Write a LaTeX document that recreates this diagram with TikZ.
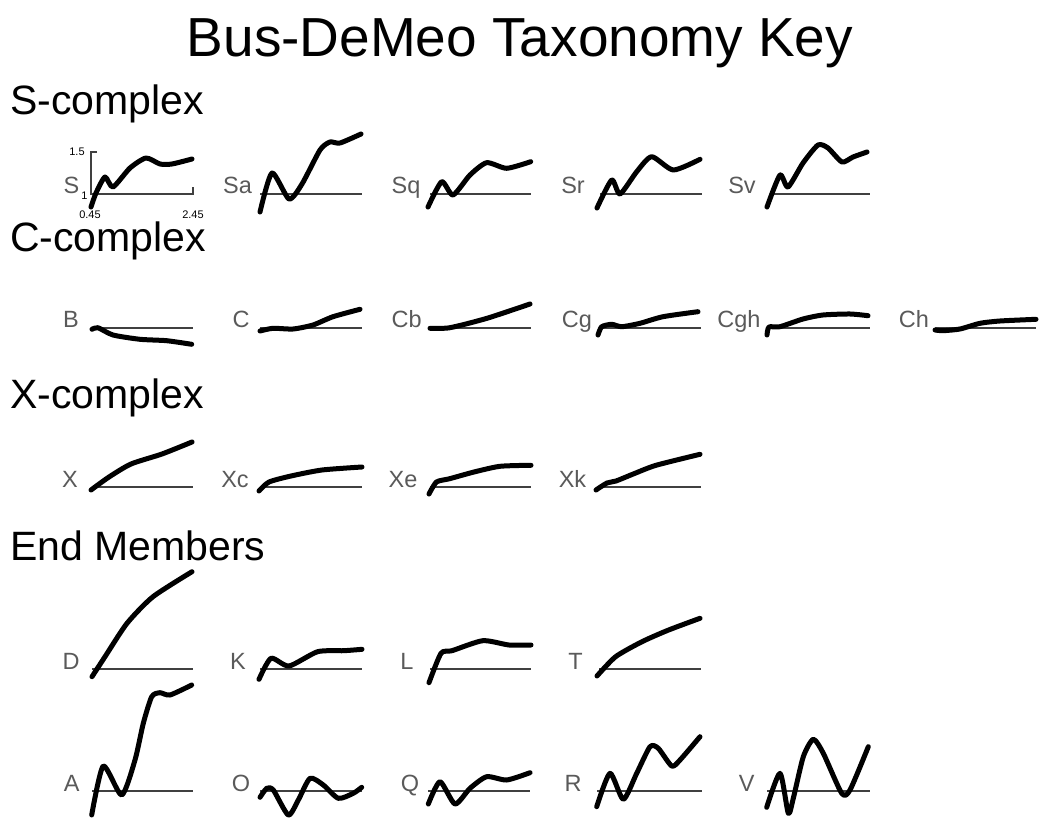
\documentclass[tikz,border=0pt]{standalone}
\usepackage{fontspec}
\setmainfont{Liberation Sans}
\definecolor{labelgray}{HTML}{5A5A5A}
\definecolor{basegray}{HTML}{404040}
\begin{document}
\begin{tikzpicture}[x=1pt,y=-1pt,
  lbl/.style={font=\fontsize{23.5}{23.5}\selectfont, text=labelgray, inner sep=0pt, anchor=base},
  tick/.style={font=\fontsize{11}{11}\selectfont, text=black, inner sep=0pt, anchor=base, text height=8pt, text depth=0pt},
  heading/.style={font=\fontsize{41}{41}\selectfont, inner sep=0pt, anchor=base west, text height=28pt, text depth=8pt},
  baseln/.style={draw=basegray, line width=1.6pt},
  spec/.style={line width=5pt, line cap=round, line join=round}]
\useasboundingbox[fill=white] (0,0) rectangle (1039,818);

% title and headings
\node[font=\fontsize{55}{55}\selectfont, inner sep=0pt, anchor=base] (title) at (520,57) {Bus-DeMeo Taxonomy Key};
\node[heading] (hS) at (10,115) {S-complex};
\node[heading] (hC) at (10,252) {C-complex};
\node[heading] (hX) at (10,408) {X-complex};
\node[heading] (hE) at (10,560) {End Members};

% ---------- S row (baseline 194)
\node[lbl] (lS) at (71.5,194) {S};
\node[lbl] (lSa) at (237.5,194) {Sa};
\node[lbl] (lSq) at (406,194) {Sq};
\node[lbl] (lSr) at (573,194) {Sr};
\node[lbl] (lSv) at (742,194) {Sv};
\node[tick] (t15) at (77,155.5) {1.5};
\node[tick] (t1) at (84.5,200) {1};
\node[tick] (t045) at (90,219) {0.45};
\node[tick] (t245) at (193,219) {2.45};
\draw[baseln] (97,152) -- (91,152) -- (91,194) -- (193,194) -- (193,187);
\draw[baseln] (260,194) -- (362,194);
\draw[baseln] (430,194) -- (531,194);
\draw[baseln] (600,194) -- (702,194);
\draw[baseln] (771,194) -- (870,194);
\draw[spec] plot[smooth,tension=0.4] coordinates {(91,207) (96,193) (105,177) (113,187) (130,168) (146,158) (160,164) (172,164) (192,159)};
\draw[spec] plot[smooth,tension=0.4] coordinates {(260,212) (272,173) (289,199) (302,184) (320,150) (330,142) (340,143) (361,134)};
\draw[spec] plot[smooth,tension=0.4] coordinates {(428,207) (441.7,181.7) (453,195) (470,175) (486.7,162.7) (506.7,168.3) (530.7,161.7)};
\draw[spec] plot[smooth,tension=0.4] coordinates {(597,208) (611.7,180) (620,194) (636.7,171.7) (651.7,156.7) (673.3,170) (700,159.3)};
\draw[spec] plot[smooth,tension=0.4] coordinates {(767,207) (780,175) (788,187) (803,163) (818,145) (828,148) (842,162) (853,157) (867,152)};

% ---------- C row (baseline 328)
\node[lbl] (lB) at (71,328) {B};
\node[lbl] (lC) at (241,328) {C};
\node[lbl] (lCb) at (406.7,328) {Cb};
\node[lbl] (lCg) at (577,328) {Cg};
\node[lbl] (lCgh) at (739,328) {Cgh};
\node[lbl] (lCh) at (914,328) {Ch};
\draw[baseln] (92,328) -- (193,328);
\draw[baseln] (260,328) -- (362,328);
\draw[baseln] (430,328) -- (531,328);
\draw[baseln] (599,328) -- (701,328);
\draw[baseln] (767,328) -- (870,328);
\draw[baseln] (935,328) -- (1036,328);
\draw[spec] plot[smooth,tension=0.4] coordinates {(92,329.3) (98,327.7) (113,335) (140,339.3) (166.7,340.7) (191.7,344.3)};
\draw[spec] plot[smooth,tension=0.4] coordinates {(260,331) (273,328.3) (293,329) (313,325) (333,316.7) (360,309.3)};
\draw[spec] plot[smooth,tension=0.4] coordinates {(430,328.3) (450,327.7) (487,318.3) (530,304)};
\draw[spec] plot[smooth,tension=0.4] coordinates {(598,335) (601.7,326.7) (611.7,324.3) (621.7,326.7) (640,323.3) (663,316.7) (698,311.7)};
\draw[spec] plot[smooth,tension=0.4] coordinates {(767,335) (769,327) (780,326.7) (803,319) (823,315) (850,314) (868,315.7)};
\draw[spec] plot[smooth,tension=0.4] coordinates {(935,330) (943,330.7) (960,329) (980,323.3) (1000,321) (1036,319.3)};

% ---------- X row (baseline 487)
\node[lbl] (lX) at (70,487) {X};
\node[lbl] (lXc) at (235,487) {Xc};
\node[lbl] (lXe) at (403,487) {Xe};
\node[lbl] (lXk) at (572.5,487) {Xk};
\draw[baseln] (92,487) -- (193,487);
\draw[baseln] (260,487) -- (362,487);
\draw[baseln] (430,487) -- (531,487);
\draw[baseln] (599,487) -- (701,487);
\draw[spec] plot[smooth,tension=0.4] coordinates {(91,490) (109,477) (131,464) (162,454) (192,442)};
\draw[spec] plot[smooth,tension=0.4] coordinates {(259,491) (269,482) (291,476) (322,470) (362,467)};
\draw[spec] plot[smooth,tension=0.4] coordinates {(429,494) (436.5,482) (449.7,478.7) (474,472) (500,466.3) (531,465.3)};
\draw[spec] plot[smooth,tension=0.4] coordinates {(596,490) (607,483) (616,481) (634,473.7) (656,465.3) (700,454.3)};

% ---------- D row (baseline 669)
\node[lbl] (lD) at (71,669) {D};
\node[lbl] (lK) at (238,669) {K};
\node[lbl] (lL) at (407,669) {L};
\node[lbl] (lT) at (575.5,669) {T};
\draw[baseln] (92,669) -- (193,669);
\draw[baseln] (260,669) -- (362,669);
\draw[baseln] (430,669) -- (531,669);
\draw[baseln] (599,669) -- (701,669);
\draw[spec] plot[smooth,tension=0.4] coordinates {(92,676.7) (105,656.7) (127,623.3) (153,596.7) (192,571.7)};
\draw[spec] plot[smooth,tension=0.4] coordinates {(259,679.3) (271,658.3) (289,666) (317.6,651.7) (344,650.7) (362,649.3)};
\draw[spec] plot[smooth,tension=0.4] coordinates {(429,682.7) (441,653.3) (452,650.7) (482.8,640.7) (509,645) (531,645)};
\draw[spec] plot[smooth,tension=0.4] coordinates {(597,676) (615.6,656.7) (642,641.7) (668.6,630) (700,618.3)};

% ---------- A row (baseline 791)
\node[lbl] (lA) at (71.7,791) {A};
\node[lbl] (lO) at (241,791) {O};
\node[lbl] (lQ) at (410,791) {Q};
\node[lbl] (lR) at (573,791) {R};
\node[lbl] (lV) at (746.7,791) {V};
\draw[baseln] (92,791) -- (193,791);
\draw[baseln] (260,791) -- (362,791);
\draw[baseln] (428,791) -- (530,791);
\draw[baseln] (597,791) -- (702,791);
\draw[baseln] (767,791) -- (870,791);
\draw[spec] plot[smooth,tension=0.4] coordinates {(91.7,815) (103.3,766) (121.7,795) (135,760) (143.3,723.3) (151.7,696.7) (160,692.7) (170,695) (191.7,685)};
\draw[spec] plot[smooth,tension=0.4] coordinates {(260,797.3) (266.7,788.3) (273.3,790) (288.3,815) (298.3,800) (310,778.3) (323.3,785) (338.3,798.3) (353.3,793.3) (361.7,787.3)};
\draw[spec] plot[smooth,tension=0.4] coordinates {(428.3,804) (440,781.7) (455,804) (470,788.3) (486.7,776.7) (506.7,780) (530,772.7)};
\draw[spec] plot[smooth,tension=0.4] coordinates {(596.7,806.7) (610,773.3) (623.3,799.3) (636.7,773.3) (650,746.7) (658.3,748.3) (671.7,766) (680,760) (700,736.7)};
\draw[spec] plot[smooth,tension=0.4] coordinates {(766.7,807.3) (780,773.3) (788.3,813.3) (793.3,798.3) (803.3,756.7) (813.3,739.3) (823.3,753.3) (841.7,793.3) (850,790) (868.3,746.7)};
\end{tikzpicture}
\end{document}
